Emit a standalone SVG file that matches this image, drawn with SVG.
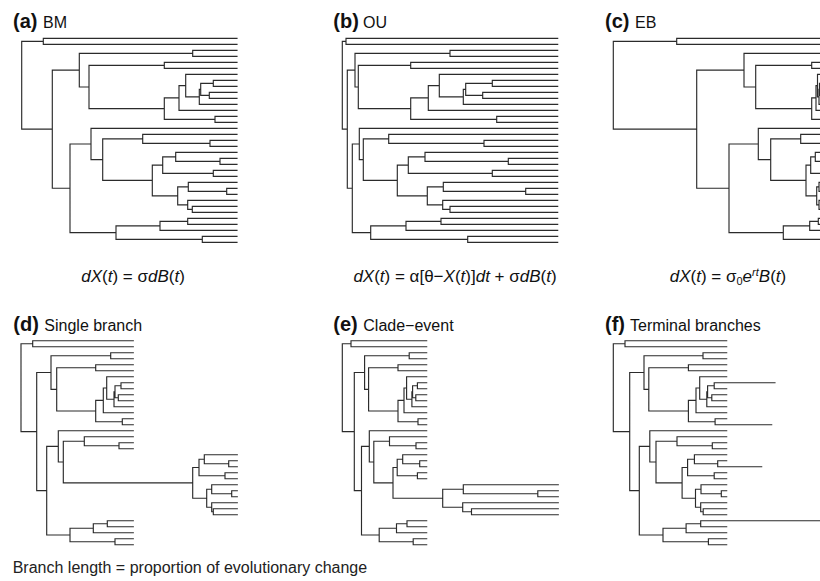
<svg xmlns="http://www.w3.org/2000/svg" width="820" height="581" viewBox="0 0 820 581">
<style>
.tree{fill:none;stroke:#2b2b2b;stroke-width:1.15;stroke-linejoin:miter;stroke-linecap:square}
.lab{font-family:"Liberation Sans",Arial,sans-serif;font-weight:bold;font-size:20px;fill:#111}
.ttl{font-family:"Liberation Sans",Arial,sans-serif;font-size:16px;fill:#111}
.eq{font-family:"Liberation Sans",Arial,sans-serif;font-size:17px;fill:#111}
.it{font-style:italic}
.cap{font-family:"Liberation Sans",Arial,sans-serif;font-size:16px;fill:#222}
</style>
<rect width="820" height="581" fill="#fff"/>
<g id="panel-a">
<text class="lab" x="13" y="28">(a)</text><text class="ttl" x="43" y="28">BM</text>
<g id="tree-a" transform="translate(0,38.3)"><path class="tree" d="M43.3 3H21.7V90.89H52.3M237 0H43.3V6H237M79.3 31.83H52.3V149.95H70M192.7 15H79.3V48.66H89M237 12H192.7V18H237M164.3 27H89V70.31H164.3M237 24H164.3V30H237M179 59.63H164.3V81H215M185.7 47.25H179V72H237M237 36H185.7V58.5H199.3M200.7 51H199.3V66H237M213.3 45H200.7V57H209.3M237 42H213.3V48H237M237 54H209.3V60H237M237 78H215V84H237M91 105.66H70V194.25H116M237 90H91V121.31H102.7M142.7 100.5H102.7V142.13H152.3M237 96H142.7V105H210M237 102H210V108H237M162.7 126.75H152.3V157.5H177.7M175.7 118.5H162.7V135H213.3M237 114H175.7V123H220M237 120H220V126H237M237 132H213.3V138H237M188.3 148.5H177.7V166.5H187.7M237 144H188.3V153H226.7M237 150H226.7V156H237M237 162H187.7V171H192.3M237 168H192.3V174H237M160 187.5H116V201H202.3M187.7 183H160V192H237M237 180H187.7V186H237M237 198H202.3V204H237"/></g>
<text class="eq" x="133" y="282" text-anchor="middle"><tspan class="it">dX</tspan>(<tspan class="it">t</tspan>) = σ<tspan class="it">dB</tspan>(<tspan class="it">t</tspan>)</text>
</g>
<g id="panel-b">
<text class="lab" x="333.3" y="28">(b)</text><text class="ttl" x="363" y="28">OU</text>
<g id="tree-b" transform="translate(0,38.3)"><path class="tree" d="M346 3H342.3V90.89H347.3M557.7 0H346V6H557.7M355 31.83H347.3V149.95H352.3M450 15H355V48.66H358.3M557.7 12H450V18H557.7M410.7 27H358.3V70.31H410.7M557.7 24H410.7V30H557.7M428.3 59.63H410.7V81H496.7M439.3 47.25H428.3V72H557.7M557.7 36H439.3V58.5H463.3M465.7 51H463.3V66H557.7M492.3 45H465.7V57H482.7M557.7 42H492.3V48H557.7M557.7 54H482.7V60H557.7M557.7 78H496.7V84H557.7M359.3 105.66H352.3V194.25H370.7M557.7 90H359.3V121.31H363.3M388.7 100.5H363.3V142.13H397.3M557.7 96H388.7V105H484M557.7 102H484V108H557.7M408.3 126.75H397.3V157.5H427.3M425 118.5H408.3V135H492.3M557.7 114H425V123H508.3M557.7 120H508.3V126H557.7M557.7 132H492.3V138H557.7M443.3 148.5H427.3V166.5H442.7M557.7 144H443.3V153H525.7M557.7 150H525.7V156H557.7M557.7 162H442.7V171H450M557.7 168H450V174H557.7M406 187.5H370.7V201H467.7M441 183H406V192H557.7M557.7 180H441V186H557.7M557.7 198H467.7V204H557.7"/></g>
<text class="eq" x="455" y="282" text-anchor="middle"><tspan class="it">dX</tspan>(<tspan class="it">t</tspan>) = α[θ−<tspan class="it">X</tspan>(<tspan class="it">t</tspan>)]<tspan class="it">dt</tspan> + σ<tspan class="it">dB</tspan>(<tspan class="it">t</tspan>)</text>
</g>
<g id="panel-c">
<text class="lab" x="605" y="28">(c)</text><text class="ttl" x="635" y="28">EB</text>
<g id="tree-c" transform="translate(0,38.3)"><path class="tree" d="M676.7 3H613.3V90.89H696.7M830 0H676.7V6H830M744 31.83H696.7V149.95H729M825 15H744V48.66H755.7M830 12H825V18H830M811.7 27H755.7V70.31H811.7M830 24H811.7V30H830M816 59.63H811.7V81H825M817.5 47.25H816V72H830M830 36H817.5V58.5H819M819.5 51H819V66H830M825 45H819.5V57H825M830 42H825V48H830M830 54H825V60H830M830 78H825V84H830M758.3 105.66H729V194.25H783.3M830 90H758.3V121.31H770.7M800.7 100.5H770.7V142.13H806M830 96H800.7V105H825M830 102H825V108H830M810.7 126.75H806V157.5H816.7M815.3 118.5H810.7V135H825M830 114H815.3V123H825M830 120H825V126H830M830 132H825V138H830M819 148.5H816.7V166.5H819M830 144H819V153H825M830 150H825V156H830M830 162H819V171H825M830 168H825V174H830M809.7 187.5H783.3V201H825M818.3 183H809.7V192H830M830 180H818.3V186H830M830 198H825V204H830"/></g>
<text class="eq" x="728" y="282" text-anchor="middle"><tspan class="it">dX</tspan>(<tspan class="it">t</tspan>) = σ<tspan font-size="11" dy="3">0</tspan><tspan class="it" dy="-3">e</tspan><tspan class="it" font-size="11" dy="-6">rt</tspan><tspan class="it" dy="6">B</tspan>(<tspan class="it">t</tspan>)</text>
</g>
<g id="panel-d">
<text class="lab" x="13.3" y="330.5">(d)</text><text class="ttl" x="44.3" y="330.5">Single branch</text>
<g id="tree-d" transform="translate(0,340.7)"><path class="tree" d="M32.7 3H21V90.89H36.7M133.3 0H32.7V6H133.3M51 31.83H36.7V149.95H46.7M110.7 15H51V48.66H56.7M133.3 12H110.7V18H133.3M95.7 27H56.7V70.31H95.7M133.3 24H95.7V30H133.3M103.3 59.63H95.7V81H122.3M106.7 47.25H103.3V72H133.3M133.3 36H106.7V58.5H114M115 51H114V66H133.3M121 45H115V57H118.3M133.3 42H121V48H133.3M133.3 54H118.3V60H133.3M133.3 78H122.3V84H133.3M58.3 105.66H46.7V194.25H70M133.3 90H58.3V121.31H63.3M84.3 100.5H63.3V142.13H192.7M133.3 96H84.3V105H119M133.3 102H119V108H133.3M199 126.75H192.7V157.5H206.7M204.3 118.5H199V135H225M237.3 114H204.3V123H228.7M237.3 120H228.7V126H237.3M237.3 132H225V138H237.3M211.7 148.5H206.7V166.5H211.7M237.3 144H211.7V153H231.7M237.3 150H231.7V156H237.3M237.3 162H211.7V171H213.3M237.3 168H213.3V174H237.3M93.3 187.5H70V201H115M107.3 183H93.3V192H133.3M133.3 180H107.3V186H133.3M133.3 198H115V204H133.3"/></g>
</g>
<g id="panel-e">
<text class="lab" x="333.3" y="330.5">(e)</text><text class="ttl" x="363.3" y="330.5">Clade−event</text>
<g id="tree-e" transform="translate(0,340.7)"><path class="tree" d="M351 3H342.3V90.89H354.3M426.7 0H351V6H426.7M364.6 31.83H354.3V149.95H361.5M409.2 15H364.6V48.66H368.6M426.7 12H409.2V18H426.7M398 27H368.6V70.31H398M426.7 24H398V30H426.7M404 59.63H398V81H418M406.6 47.25H404V72H426.7M426.7 36H406.6V58.5H411.9M412.6 51H411.9V66H426.7M417.4 45H412.6V57H415.8M426.7 42H417.4V48H426.7M426.7 54H415.8V60H426.7M426.7 78H418V84H426.7M369.3 105.66H361.5V194.25H379.2M426.7 90H369.3V121.31H373.8M389.5 100.5H373.8V142.13H393M426.7 96H389.5V105H416M426.7 102H416V108H426.7M397.2 126.75H393V157.5H442.7M402.7 118.5H397.2V135H417.4M426.7 114H402.7V123H419.7M426.7 120H419.7V126H426.7M426.7 132H417.4V138H426.7M463.3 148.5H442.7V166.5H462.7M558.3 144H463.3V153H537.8M558.3 150H537.8V156H558.3M558.3 162H462.7V171H471.5M558.3 168H471.5V174H558.3M396.5 187.5H379.2V201H413.2M407 183H396.5V192H426.7M426.7 180H407V186H426.7M426.7 198H413.2V204H426.7"/></g>
</g>
<g id="panel-f">
<text class="lab" x="605" y="330.5">(f)</text><text class="ttl" x="630" y="330.5">Terminal branches</text>
<g id="tree-f" transform="translate(0,340.7)"><path class="tree" d="M625 3H613.3V90.89H629.7M726.7 0H625V6H726.7M644 31.83H629.7V149.95H639.3M703 15H644V48.66H648.8M726.7 12H703V18H726.7M688.4 27H648.8V70.31H688.4M726.7 24H688.4V30H726.7M696 59.63H688.4V81H715.1M699.7 47.25H696V72H726.7M726.7 36H699.7V58.5H706.8M707.6 51H706.8V66H726.7M714.2 45H707.6V57H711.8M775 42H714.2V48H726.7M726.7 54H711.8V60H726.7M726.7 78H715.1V84H771.7M649.8 105.66H639.3V194.25H663M726.7 90H649.8V121.31H656M677 100.5H656V142.13H682.1M726.7 96H677V105H712.3M726.7 102H712.3V108H726.7M687.6 126.75H682.1V157.5H695.5M694.4 118.5H687.6V135H714.2M726.7 114H694.4V123H717.7M726.7 120H717.7V126H761.7M726.7 132H714.2V138H726.7M701 148.5H695.5V166.5H700.7M726.7 144H701V153H721.3M726.7 150H721.3V156H726.7M726.7 162H700.7V171H703.2M726.7 168H703.2V174H726.7M686.1 187.5H663V201H708.4M700.7 183H686.1V192H726.7M820 180H700.7V186H726.7M726.7 198H708.4V204H726.7"/></g>
</g>
<text class="cap" x="12.7" y="573">Branch length = proportion of evolutionary change</text>
</svg>
